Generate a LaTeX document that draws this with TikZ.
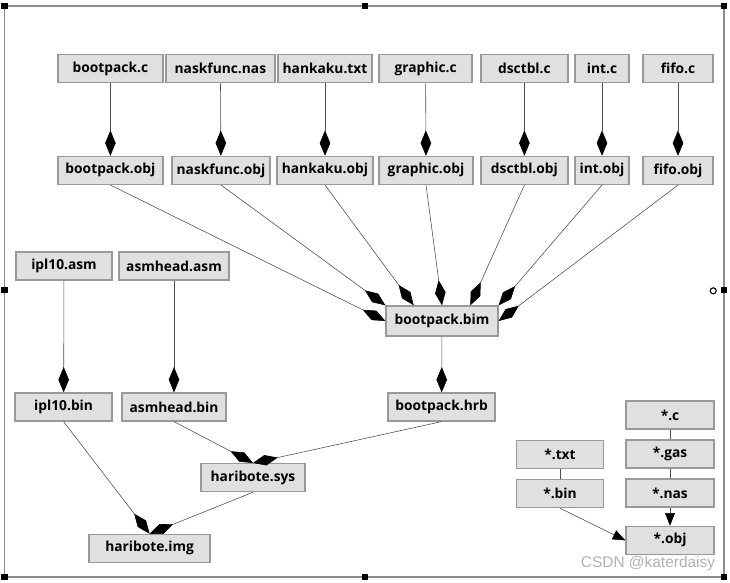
\documentclass[tikz,border=0pt]{standalone}
\usepackage{fontspec}
\setmainfont{Open Sans}
\newfontfamily\wmfont{Liberation Sans}
\usetikzlibrary{arrows.meta,calc}

\begin{document}
\begin{tikzpicture}[align=center,
		box/.style={draw=black!40, fill=black!12, line width=0.9pt, minimum height=0.7cm, inner sep=0pt, font=\fontsize{9.8}{11}\selectfont\bfseries},
		dia/.style={draw=black!70, line width=0.4pt, -{Diamond[length=18pt,width=7.5pt,color=black]}},
		tri/.style={draw=black!70, line width=0.4pt, -{Triangle[length=9pt,width=7pt,color=black]}},
		lnk/.style={draw=black!70, line width=0.4pt},
		handle/.style={fill=black, minimum size=0.17cm, inner sep=0pt}]
		
		\useasboundingbox (0,0) rectangle (18.25,14.55);
		
		% frame with handles
		\draw[black!45, line width=0.8pt] (0.11,0.125) rectangle (18.1,14.4);
		\node[handle] (h1) at (0.11,14.4) {};
		\node[handle] (h2) at (9.125,14.4) {};
		\node[handle] (h3) at (18.1,14.4) {};
		\node[handle] (h4) at (0.11,7.3) {};
		\node[handle] (h5) at (18.1,7.3) {};
		\node[handle] (h6) at (0.11,0.125) {};
		\node[handle] (h7) at (9.125,0.125) {};
		\node[handle] (h8) at (18.1,0.125) {};
		\draw[line width=0.8pt] (17.83,7.28) circle (0.075);
		
		% sources
		\node[box, minimum width=2.625cm] (bootc) at (2.76,12.83) {bootpack.c};
		\node[box, minimum width=2.725cm] (naskn) at (5.51,12.83) {naskfunc.nas};
		\node[box, minimum width=2.35cm] (hankt) at (8.125,12.83) {hankaku.txt};
		\node[box, minimum width=2.325cm] (graphc) at (10.64,12.83) {graphic.c};
		\node[box, minimum width=2.175cm] (dscc) at (13.11,12.83) {dsctbl.c};
		\node[box, minimum width=1.35cm] (intc) at (15.05,12.83) {int.c};
		\node[box, minimum width=1.75cm] (fifoc) at (16.95,12.83) {fifo.c};
		
		% objects
		\node[box, minimum width=2.625cm] (booto) at (2.76,10.29) {bootpack.obj};
		\node[box, minimum width=2.45cm] (nasko) at (5.525,10.29) {naskfunc.obj};
		\node[box, minimum width=2.4cm] (hanko) at (8.125,10.29) {hankaku.obj};
		\node[box, minimum width=2.35cm] (grapho) at (10.65,10.29) {graphic.obj};
		\node[box, minimum width=2.175cm] (dsco) at (13.11,10.29) {dsctbl.obj};
		\node[box, minimum width=1.35cm] (into) at (15.05,10.29) {int.obj};
		\node[box, minimum width=1.75cm] (fifoo) at (16.95,10.29) {fifo.obj};
		
		\node[box, minimum width=2.8cm, minimum height=0.75cm] (bim) at (11.05,6.525) {bootpack.bim};
		\node[box, minimum width=2.675cm] (hrb) at (11.04,4.375) {bootpack.hrb};
		
		\node[box, minimum width=2.4cm] (ipla) at (1.6,7.9) {ipl10.asm};
		\node[box, minimum width=2.75cm] (asma) at (4.35,7.9) {asmhead.asm};
		\node[box, minimum width=2.425cm] (iplb) at (1.59,4.375) {ipl10.bin};
		\node[box, minimum width=2.6cm] (asmb) at (4.35,4.375) {asmhead.bin};
		\node[box, minimum width=2.6cm] (sys) at (6.325,2.61) {haribote.sys};
		\node[box, minimum width=3.025cm] (img) at (3.74,0.84) {haribote.img};
		
		% legend
		\node[box, minimum width=2.2cm] (lc) at (16.75,4.175) {*.c};
		\node[box, minimum width=2.2cm] (lgas) at (16.75,3.2) {*.gas};
		\node[box, minimum width=2.2cm] (lnas) at (16.75,2.225) {*.nas};
		\node[box, minimum width=2.2cm] (lobj) at (16.75,1.04) {*.obj};
		\node[box, minimum width=2.175cm] (ltxt) at (14.0,3.19) {*.txt};
		\node[box, minimum width=2.175cm] (lbin) at (14.0,2.21) {*.bin};
		
		\draw[dia] (bootc) -- (booto);
		\draw[dia] (naskn) -- (nasko);
		\draw[dia] (hankt) -- (hanko);
		\draw[dia] (graphc) -- (grapho);
		\draw[dia] (dscc) -- (dsco);
		\draw[dia] (intc) -- (into);
		\draw[dia] (fifoc) -- (fifoo);
		
		\draw[dia] (booto.south) -- (bim.west);
		\draw[dia] (nasko.south) -- (bim.north west);
		\draw[dia] (hanko.south) -- ($(bim.north west)!0.25!(bim.north east)$);
		\draw[dia] (grapho.south) -- (bim.north);
		\draw[dia] (dsco.south) -- ($(bim.north west)!0.75!(bim.north east)$);
		\draw[dia] (into.south) -- (bim.north east);
		\draw[dia] (fifoo.south) -- (bim.east);
		
		\draw[dia] (bim) -- (hrb);
		\draw[dia] (ipla) -- (iplb);
		\draw[dia] (asma) -- (asmb);
		\draw[dia] (asmb.south) -- (sys.north);
		\draw[dia] (hrb.south) -- (sys.north);
		\draw[dia] (iplb.south) -- (img.north);
		\draw[dia] (sys.south) -- (img.north);
		
		\draw[lnk] (lc) -- (lgas);
		\draw[lnk] (lgas) -- (lnas);
		\draw[tri] (lnas) -- (lobj);
		\draw[lnk] (ltxt) -- (lbin);
		\draw[tri] (lbin.south) -- (lobj.west);
		
		\node[text=black!30, font=\wmfont\fontsize{11}{13}\selectfont] (wm) at (16.2,0.45) {CSDN @katerdaisy};
	\end{tikzpicture}
\end{document}
